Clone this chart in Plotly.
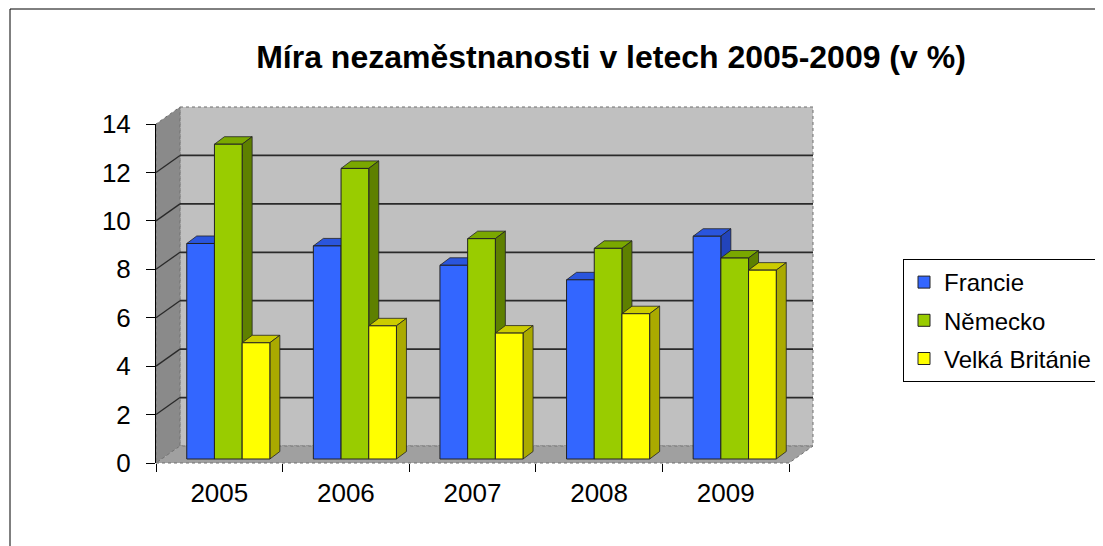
import plotly.graph_objects as go

# ---------------- data ----------------
years = ["2005", "2006", "2007", "2008", "2009"]
series_names = ["Francie", "Německo", "Velká Británie"]
francie = [8.9, 8.8, 8.0, 7.4, 9.2]
nemecko = [13.0, 12.0, 9.1, 8.7, 8.3]
velka_britanie = [4.8, 5.5, 5.2, 6.0, 7.8]
y_ticks = [0, 2, 4, 6, 8, 10, 12, 14]
title_text = "Míra nezaměstnanosti v letech 2005-2009 (v %)"

series_values = [francie, nemecko, velka_britanie]

# ---------------- styling / geometry ----------------
FONT = "Arial, Liberation Sans, sans-serif"
OFF = 8                                 # page body margin of the html file
WIN_W, WIN_H = 1103, 546
FIG_W, FIG_H = WIN_W - OFF, WIN_H - OFF
PLOT_L, PLOT_T = 156, 124               # target screen positions of the front plane
PW, PH = 633, 339
ML, MT = PLOT_L - OFF, PLOT_T - OFF
MR = FIG_W - ML - PW
MB = FIG_H - MT - PH
YMAX = y_ticks[-1]
N = len(years)

front_colors = ["#3366FF", "#99CC00", "#FFFF00"]
side_colors = ["#2244BB", "#5E8000", "#AAAA00"]
top_colors = ["#2A55DD", "#7AA800", "#CCCC00"]

WALL_DX, WALL_DY = 24, 17      # depth offset of back wall (px)
BAR_DX, BAR_DY = 10, 7.5       # depth of bars (px)
BAR_SHIFT_PX = 9               # shift of bar group to the right (px)
BAR_BASE_PX = 4                # bar floor above front axis (px)
bar_w = 27.7 / (PW / N)        # bar width in category units
base = BAR_BASE_PX * YMAX / PH


def px(xc):
    """category coordinate -> paper x"""
    return (xc + 0.5) / N


def py(v):
    """value -> paper y"""
    return v / YMAX


def scr_x(sx):
    """screen pixel x -> paper x"""
    return (sx - PLOT_L) / PW


def scr_y(sy):
    """screen pixel y -> paper y"""
    return (PLOT_T + PH - sy) / PH


def poly(points, fill, line_color=None, line_width=0, dash=None):
    path = "M " + " L ".join(f"{x:.5f},{y:.5f}" for x, y in points) + " Z"
    line = dict(width=line_width, color=line_color or fill)
    if dash:
        line["dash"] = dash
    return dict(type="path", path=path, xref="paper", yref="paper",
                fillcolor=fill, line=line, layer="below")


def seg(p0, p1, color, width, dash=None):
    line = dict(color=color, width=width)
    if dash:
        line["dash"] = dash
    return dict(type="line", xref="paper", yref="paper",
                x0=p0[0], y0=p0[1], x1=p1[0], y1=p1[1], line=line, layer="below")


wdx, wdy = WALL_DX / PW, WALL_DY / PH
bdx, bdy = BAR_DX / PW, BAR_DY / PH

shapes = []
# back wall
x_left, x_right = px(-0.5), px(N - 0.5)
shapes.append(poly([(x_left + wdx, py(0) + wdy), (x_right + wdx, py(0) + wdy),
                    (x_right + wdx, py(YMAX) + wdy), (x_left + wdx, py(YMAX) + wdy)],
                   "#C0C0C0", "#707070", 1, "dot"))
# side wall
shapes.append(poly([(x_left, py(0)), (x_left + wdx, py(0) + wdy),
                    (x_left + wdx, py(YMAX) + wdy), (x_left, py(YMAX))],
                   "#8A8A8A", "#707070", 1, "dot"))
# floor
shapes.append(poly([(x_left, py(0)), (x_right, py(0)),
                    (x_right + wdx, py(0) + wdy), (x_left + wdx, py(0) + wdy)],
                   "#A0A0A0", "#707070", 1, "dot"))
# gridlines on back wall and side wall
for v in y_ticks[1:-1]:
    shapes.append(seg((x_left + wdx, py(v) + wdy), (x_right + wdx, py(v) + wdy), "#2A2A2A", 1.8))
    shapes.append(seg((x_left, py(v)), (x_left + wdx, py(v) + wdy), "#2A2A2A", 1.3))

# bar top and side faces
group_start = BAR_SHIFT_PX / (PW / N) - 1.5 * bar_w
offsets = [group_start + k * bar_w for k in range(len(series_names))]
for k, vals in enumerate(series_values):
    for i, v in enumerate(vals):
        xl = px(i + offsets[k])
        xr = px(i + offsets[k] + bar_w)
        t = py(base + v)
        b = py(base)
        shapes.append(poly([(xl, t), (xr, t), (xr + bdx, t + bdy), (xl + bdx, t + bdy)],
                           top_colors[k], "#222222", 0.8))
        shapes.append(poly([(xr, b), (xr, t), (xr + bdx, t + bdy), (xr + bdx, b + bdy)],
                           side_colors[k], "#222222", 0.8))

fig = go.Figure()
for k, name in enumerate(series_names):
    fig.add_trace(go.Bar(
        x=years, y=series_values[k], base=base, name=name,
        width=bar_w, offset=offsets[k],
        marker=dict(color=front_colors[k], line=dict(color="#222222", width=1)),
        legendgroup=name,
    ))

# outer chart border
shapes.append(dict(type="rect", xref="paper", yref="paper",
                   x0=scr_x(10), x1=scr_x(WIN_W + 30),
                   y0=scr_y(WIN_H + 30), y1=scr_y(9),
                   line=dict(color="#000000", width=1), fillcolor="rgba(0,0,0,0)",
                   layer="below"))

fig.update_layout(
    width=FIG_W, height=FIG_H,
    margin=dict(l=ML, r=MR, t=MT, b=MB, autoexpand=False),
    paper_bgcolor="white",
    plot_bgcolor="rgba(0,0,0,0)",
    barmode="overlay",
    showlegend=True,
    font=dict(family=FONT, color="black"),
    title=dict(text=f"<b>{title_text}</b>", x=(611 - OFF) / FIG_W, xanchor="center",
               y=1 - (57 - OFF) / FIG_H, yanchor="middle", yref="container",
               font=dict(family=FONT, size=32, color="black")),
    xaxis=dict(type="category", categoryorder="array", categoryarray=years,
               range=[-0.5, N - 0.5], showgrid=False, zeroline=False,
               showline=False, ticks="outside", tickson="boundaries",
               ticklen=8, tickcolor="black", tickwidth=1, ticklabelstandoff=12,
               tickfont=dict(family=FONT, size=26, color="black")),
    yaxis=dict(range=[0, YMAX], tickvals=y_ticks, showgrid=False, zeroline=False,
               showline=True, linecolor="black", linewidth=1,
               ticks="outside", ticklen=9, tickcolor="black", tickwidth=1,
               ticklabelstandoff=10,
               tickfont=dict(family=FONT, size=26, color="black")),
    legend=dict(x=scr_x(903), xanchor="left", y=scr_y(259), yanchor="top",
                bgcolor="white", bordercolor="black", borderwidth=1,
                font=dict(family=FONT, size=24, color="black"),
                tracegroupgap=4, traceorder="grouped"),
    shapes=shapes,
)

fig.write_html("out.html")
